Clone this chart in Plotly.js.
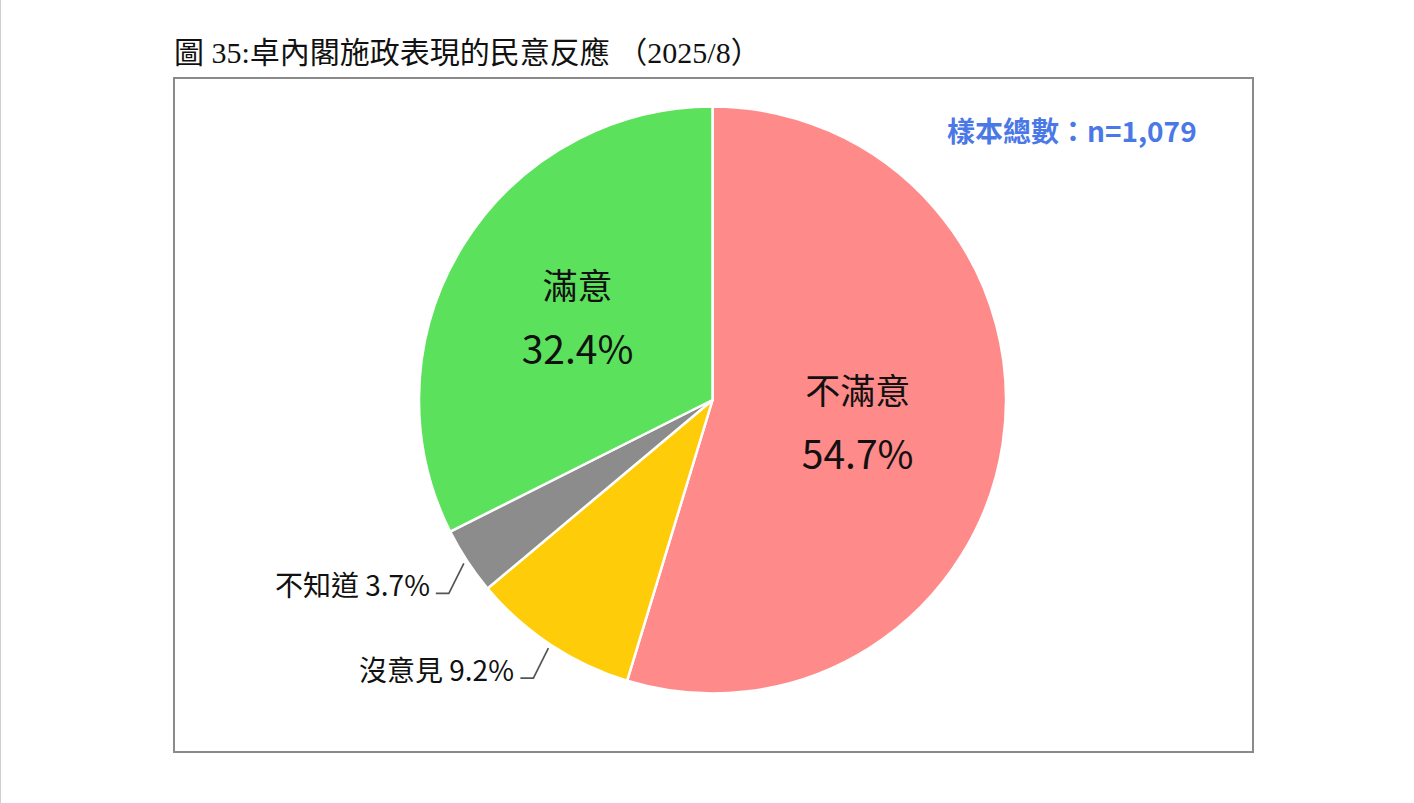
<!DOCTYPE html>
<html>
<head>
<meta charset="utf-8">
<script src="https://cdn.plot.ly/plotly-3.0.1.min.js"></script>
<style>
  html, body { margin: 0; padding: 0; background: #fff; }
  #chart { width: 1414px; height: 803px; border-left: 1px solid #cfcfcf; box-sizing: border-box; }
</style>
</head>
<body>
<div id="chart"></div>
<script>
// 資料
var labels = ['不滿意', '沒意見', '不知道', '滿意'];
var values = [54.7, 9.2, 3.7, 32.4];
var colors = ['#FF8A8A', '#FFCC0A', '#8C8C8C', '#5CE15C'];
var insideSlices = [true, false, false, true];
var chartTitle = '圖 35:卓內閣施政表現的民意反應 （2025/8）';
var sampleNote = '樣本總數：n=1,079';

var W = 1414, H = 803;
var cx = 711.5, cy = 400, R = 293.5;   // 圓餅中心與半徑 (px)

function px(x) { return x / W; }
function py(y) { return 1 - y / H; }

var cjk = '"Noto Sans CJK TC", "Noto Sans", sans-serif';

var texts = labels.map(function (l, i) {
  if (!insideSlices[i]) return '';
  return '<span style="font-size:35px">' + l + '</span><br> <br>' +
         '<span style="font-size:39px">%{percent:.1%}</span>';
});

var trace = {
  type: 'pie',
  labels: labels,
  values: values,
  sort: false,
  direction: 'clockwise',
  rotation: 0,
  marker: { colors: colors, line: { color: '#ffffff', width: 2.5 } },
  texttemplate: texts,
  textposition: insideSlices.map(function (b) { return b ? 'inside' : 'none'; }),
  insidetextorientation: 'horizontal',
  textfont: { family: cjk, size: 25, color: '#111111' },
  hoverinfo: 'label+percent',
  showlegend: false,
  domain: { x: [px(cx - R), px(cx + R)], y: [py(cy + R), py(cy - R)] }
};

// 外框
var shapes = [{
  type: 'rect', xref: 'paper', yref: 'paper',
  x0: px(173), x1: px(1252), y0: py(752), y1: py(78),
  line: { color: '#8a8a8a', width: 2 }
}];
var annotations = [
  {
    text: chartTitle, xref: 'paper', yref: 'paper',
    x: px(171), y: py(52), xanchor: 'left', yanchor: 'middle', showarrow: false,
    font: { family: '"Liberation Serif", "Noto Sans CJK TC", serif', size: 30, color: '#111111' }
  },
  {
    text: sampleNote, xref: 'paper', yref: 'paper',
    x: px(1198), y: py(130), xanchor: 'right', yanchor: 'middle', showarrow: false,
    font: { family: cjk, size: 28, color: '#4A78E6', weight: 'bold' }
  }
];

// 小扇區的外部標籤與引導線
var total = values.reduce(function (a, b) { return a + b; }, 0);
var cum = 0;
values.forEach(function (v, i) {
  var mid = (cum + v / 2) / total * 2 * Math.PI;
  cum += v;
  if (insideSlices[i]) return;
  var sx = cx + (R + 4) * Math.sin(mid), sy = cy - (R + 4) * Math.cos(mid);
  var ex = sx - 15, ey = sy + 30;
  var hx = ex - 13;
  shapes.push({
    type: 'path', xref: 'paper', yref: 'paper',
    path: 'M ' + px(sx) + ' ' + py(sy) + ' L ' + px(ex) + ' ' + py(ey) + ' L ' + px(hx) + ' ' + py(ey),
    line: { color: '#555555', width: 1.7 }
  });
  annotations.push({
    text: labels[i] + ' ' + v.toFixed(1) + '%', xref: 'paper', yref: 'paper',
    x: px(hx - 4), y: py(ey - 9), xanchor: 'right', yanchor: 'middle', showarrow: false,
    font: { family: cjk, size: 28, color: '#111111' }
  });
});

var layout = {
  width: W, height: H,
  margin: { l: 0, r: 0, t: 0, b: 0 },
  paper_bgcolor: '#ffffff',
  shapes: shapes,
  annotations: annotations
};

Plotly.newPlot('chart', [trace], layout, { displayModeBar: false, staticPlot: true });
</script>
</body>
</html>
